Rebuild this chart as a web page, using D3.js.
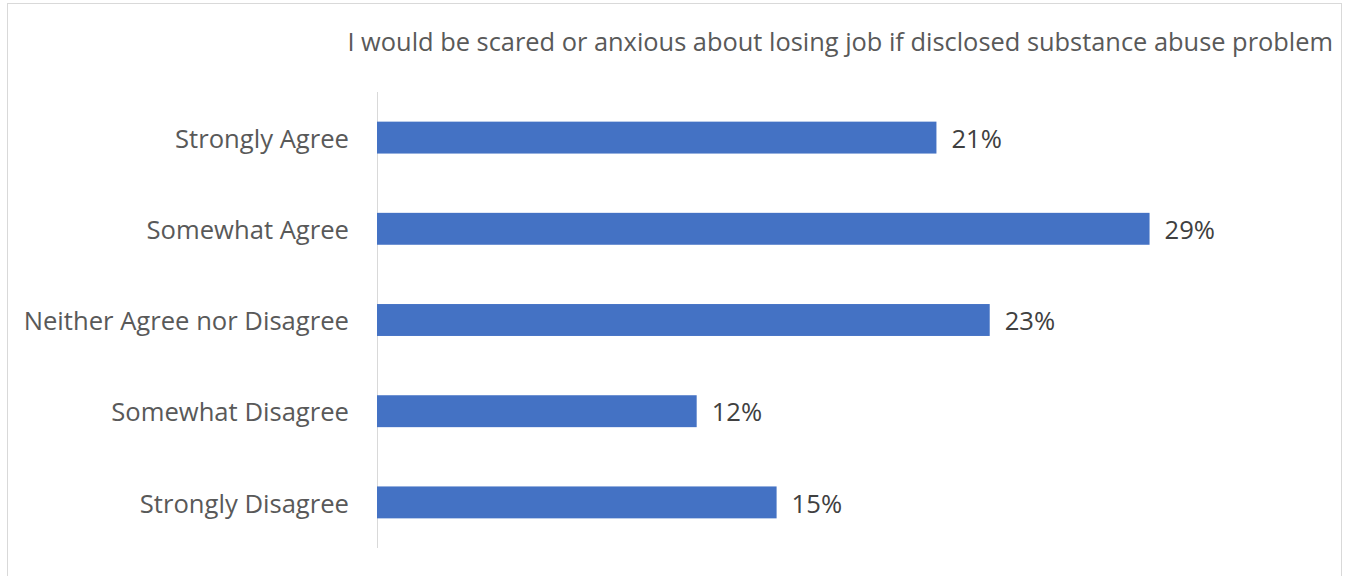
<!DOCTYPE html>
<html>
<head>
<meta charset="utf-8">
<script src="https://cdn.jsdelivr.net/npm/d3@7"></script>
<style>
  html, body { margin: 0; padding: 0; background: #fff; }
  svg { display: block; }
  text { font-family: "Open Sans", "Noto Sans", sans-serif; }
</style>
</head>
<body>
<svg id="chart" width="1347" height="576"></svg>
<script>
// Survey responses
const title = "I would be scared or anxious about losing job if disclosed substance abuse problem";
const categories = ["Strongly Agree", "Somewhat Agree", "Neither Agree nor Disagree", "Somewhat Disagree", "Strongly Disagree"];
const percents = [21, 29, 23, 12, 15];

const W = 1347, H = 576;
const svg = d3.select("#chart");

// chart frame
svg.append("rect")
  .attr("x", 7.5).attr("y", 3.5)
  .attr("width", 1334).attr("height", 590)
  .attr("fill", "#fff").attr("stroke", "#d9d9d9").attr("stroke-width", 1);

const plot = { left: 377, top: 92, bottom: 548 };

const x = d3.scaleLinear().domain([0, 35]).range([plot.left, plot.left + 35 * 26.64]);
const y = d3.scaleBand().domain(categories).range([plot.top, plot.bottom]).paddingInner(0.65).paddingOuter(0.325);

// fit a text element to a target width by adjusting its font size
function fitWidth(sel, target, base) {
  sel.attr("font-size", base);
  const w = sel.node().getComputedTextLength();
  sel.attr("font-size", base * target / w);
  return base * target / w;
}

// title
const t = svg.append("text")
  .attr("x", 1333).attr("y", 51)
  .attr("text-anchor", "end")
  .attr("fill", "#595959")
  .text(title);
fitWidth(t, 986, 20);

// category axis
const yAxis = d3.axisLeft(y).tickSize(0).tickPadding(28);
const ga = svg.append("g").attr("transform", `translate(${plot.left},0)`).call(yAxis);
ga.select(".domain").remove();
ga.append("line")
  .attr("x1", 0.5).attr("x2", 0.5)
  .attr("y1", plot.top).attr("y2", plot.bottom)
  .attr("stroke", "#d9d9d9").attr("stroke-width", 1);
const tickTexts = ga.selectAll(".tick text")
  .attr("fill", "#595959")
  .attr("font-family", "'Open Sans', 'Noto Sans', sans-serif");
// size category labels from the first label's width
const probe = tickTexts.filter(d => d === "Strongly Agree");
const catSize = fitWidth(probe, 174, 20);
tickTexts.attr("font-size", catSize).attr("dy", "0.4em");

// bars
svg.append("g").selectAll("rect")
  .data(categories)
  .join("rect")
  .attr("x", x(0))
  .attr("y", d => y(d))
  .attr("width", (d, i) => x(percents[i]) - x(0))
  .attr("height", y.bandwidth())
  .attr("fill", "#4472c4");

// value labels
svg.append("g").selectAll("text")
  .data(categories)
  .join("text")
  .attr("x", (d, i) => x(percents[i]) + 15)
  .attr("y", d => y(d) + y.bandwidth() / 2)
  .attr("dy", "0.4em")
  .attr("font-size", catSize)
  .attr("fill", "#404040")
  .text((d, i) => percents[i] + "%");
</script>
</body>
</html>
